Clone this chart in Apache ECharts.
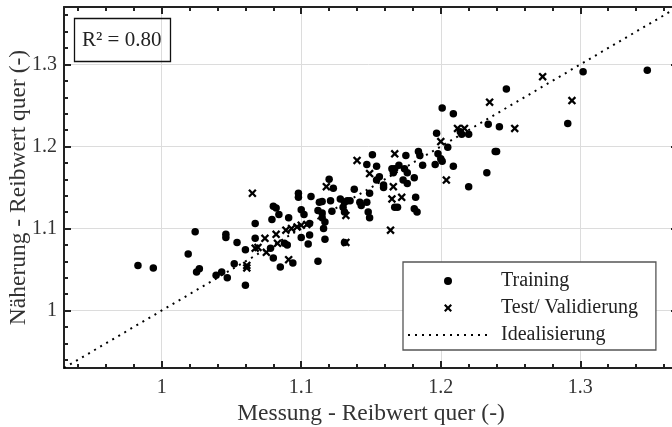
<!DOCTYPE html>
<html><head><meta charset="utf-8">
<script src="https://cdn.jsdelivr.net/npm/echarts@6/dist/echarts.min.js"></script>
<style>html,body{margin:0;padding:0;background:#fff}#c{width:672px;height:427px}</style>
</head><body><div id="c"></div>
<script>
const trainingPoints = [
[0.983,1.055],[0.994,1.052],[1.019,1.069],[1.024,1.096],[1.025,1.047],[1.027,1.051],
[1.039,1.043],[1.043,1.047],[1.047,1.040],[1.046,1.093],[1.046,1.089],[1.054,1.083],
[1.052,1.057],[1.060,1.074],[1.060,1.031],[1.067,1.106],[1.067,1.088],[1.078,1.076],
[1.080,1.127],[1.082,1.125],[1.084,1.117],[1.079,1.111],[1.091,1.113],[1.080,1.064],
[1.085,1.053],[1.088,1.082],[1.090,1.080],[1.094,1.058],[1.098,1.143],[1.098,1.138],
[1.107,1.139],[1.100,1.123],[1.102,1.117],[1.100,1.089],[1.106,1.092],[1.105,1.081],
[1.106,1.106],[1.112,1.060],[1.112,1.122],[1.115,1.119],[1.115,1.113],[1.117,1.108],
[1.116,1.100],[1.117,1.087],[1.113,1.132],[1.115,1.133],[1.121,1.134],[1.122,1.121],
[1.128,1.136],[1.131,1.132],[1.135,1.134],[1.133,1.134],[1.130,1.126],[1.131,1.120],
[1.120,1.160],[1.123,1.149],[1.138,1.148],[1.142,1.132],[1.143,1.128],[1.148,1.120],
[1.149,1.113],[1.149,1.143],[1.147,1.132],[1.151,1.190],[1.147,1.178],[1.154,1.176],
[1.156,1.163],[1.154,1.159],[1.159,1.153],[1.159,1.150],[1.165,1.173],[1.166,1.168],
[1.167,1.173],[1.170,1.177],[1.174,1.173],[1.176,1.168],[1.173,1.159],[1.176,1.155],
[1.181,1.162],[1.175,1.189],[1.184,1.194],[1.185,1.189],[1.169,1.126],[1.167,1.126],
[1.181,1.124],[1.183,1.120],[1.182,1.138],[1.187,1.177],[1.196,1.178],[1.197,1.216],
[1.198,1.191],[1.200,1.185],[1.201,1.182],[1.201,1.247],[1.205,1.199],[1.209,1.176],
[1.209,1.240],[1.214,1.218],[1.215,1.215],[1.220,1.215],[1.220,1.151],[1.233,1.168],
[1.234,1.227],[1.239,1.194],[1.240,1.194],[1.242,1.224],[1.247,1.270],[1.291,1.228],
[1.302,1.291],[1.348,1.293],[1.131,1.083]
];
const testPoints = [
[1.065,1.143],[1.074,1.088],[1.082,1.093],[1.089,1.098],[1.093,1.100],[1.097,1.102],
[1.104,1.105],[1.069,1.077],[1.067,1.076],[1.075,1.071],[1.083,1.082],[1.091,1.062],
[1.061,1.052],[1.061,1.055],[1.100,1.104],[1.132,1.116],[1.132,1.083],[1.140,1.183],
[1.149,1.167],[1.167,1.191],[1.166,1.151],[1.165,1.136],[1.172,1.138],[1.164,1.098],
[1.118,1.151],[1.200,1.206],[1.212,1.222],[1.217,1.222],[1.204,1.159],[1.235,1.254],
[1.253,1.222],[1.273,1.285],[1.294,1.256]
];
const idealLine = [[0.93,0.93],[1.37,1.37]];
const axisMin = 0.93, axisMax = 1.37;
const xTitle = 'Messung - Reibwert quer (-)';
const yTitle = 'Näherung - Reibwert quer (-)';
const r2Text = 'R² = 0.80';
const seriesNames = ['Training', 'Test/ Validierung', 'Idealisierung'];

const FONT = 'Liberation Serif';
const crossPath = 'path://M0,1.9L1.9,0L5,3.1L8.1,0L10,1.9L6.9,5L10,8.1L8.1,10L5,6.9L1.9,10L0,8.1L3.1,5Z';

function valueAxis(extra) {
  return Object.assign({
    type: 'value', min: axisMin, max: axisMax,
    minInterval: 0.1, maxInterval: 0.1,
    axisLine: { show: true, onZero: false, lineStyle: { color: '#222', width: 2 } },
    axisTick: { show: true, inside: true, length: 7, lineStyle: { color: '#222', width: 2 } },
    minorTick: { show: true, splitNumber: 5, length: 4, lineStyle: { color: '#222', width: 2 } },
    splitLine: { show: false },
    axisLabel: { show: false }
  }, extra);
}

const chart = echarts.init(document.getElementById('c'), null, { renderer: 'canvas' });
chart.setOption({
  animation: false,
  backgroundColor: '#fff',
  textStyle: { fontFamily: FONT },
  grid: { left: 64, top: 7, right: -6, bottom: 59, containLabel: false, outerBoundsMode: 'none' },
  title: {
    text: r2Text, left: 74, top: 18,
    borderColor: '#111', borderWidth: 1.3, padding: [11, 9, 11, 8],
    textStyle: { fontFamily: FONT, fontSize: 21, fontWeight: 'normal', color: '#222', lineHeight: 22 }
  },
  legend: {
    orient: 'vertical', left: 403, top: 262,
    padding: [9, 18, 5, 4], itemGap: 7, itemWidth: 80, itemHeight: 8,
    borderColor: '#555', borderWidth: 1.3, backgroundColor: '#fff',
    data: seriesNames,
    textStyle: { fontFamily: FONT, fontSize: 20, color: '#222', lineHeight: 20, padding: [0, 0, 0, 8] }
  },
  xAxis: [
    valueAxis({
      position: 'bottom',
      splitLine: { show: true, lineStyle: { color: '#dcdcdc', width: 1 } },
      axisLabel: { show: true, showMinLabel: false, showMaxLabel: false, margin: 10,
        fontFamily: FONT, fontSize: 20, color: '#333' },
      name: xTitle, nameLocation: 'middle', nameGap: 34, nameMoveOverlap: false,
      nameTextStyle: { fontFamily: FONT, fontSize: 23.5, color: '#333' }
    }),
    valueAxis({ position: 'top' })
  ],
  yAxis: [
    valueAxis({
      position: 'left',
      splitLine: { show: true, lineStyle: { color: '#dcdcdc', width: 1 } },
      axisLabel: { show: true, showMinLabel: false, showMaxLabel: false, margin: 7,
        fontFamily: FONT, fontSize: 20, color: '#333' },
      name: yTitle, nameLocation: 'middle', nameGap: 33, nameMoveOverlap: false,
      nameTextStyle: { fontFamily: FONT, fontSize: 23.5, color: '#333' }
    }),
    valueAxis({ position: 'right' })
  ],
  series: [
    {
      name: seriesNames[0], type: 'scatter', data: trainingPoints,
      symbol: 'circle', symbolSize: 7.5, z: 3,
      itemStyle: { color: '#000', opacity: 1 }
    },
    {
      name: seriesNames[1], type: 'scatter', data: testPoints,
      symbol: crossPath, symbolSize: 8.5, z: 4,
      itemStyle: { color: '#000', opacity: 1 }
    },
    {
      name: seriesNames[2], type: 'line', data: idealLine,
      symbol: 'none', z: 2, silent: true,
      itemStyle: { color: 'rgba(0,0,0,0)' },
      lineStyle: { color: '#000', width: 2, type: [2, 5] }
    }
  ]
});
</script></body></html>
